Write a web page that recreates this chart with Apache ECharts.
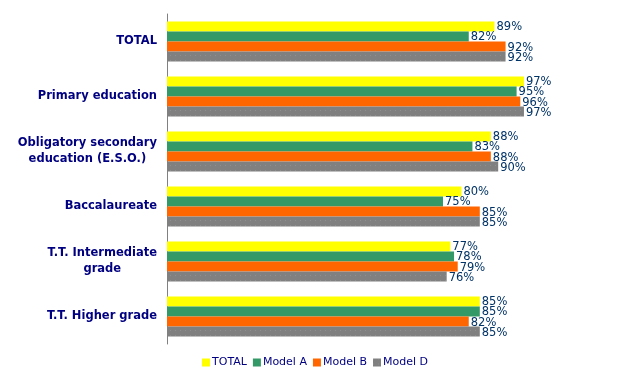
<!DOCTYPE html>
<html><head><meta charset="utf-8">
<script src="https://cdn.jsdelivr.net/npm/echarts@6/dist/echarts.min.js"></script>
<style>html,body{margin:0;padding:0;background:#fff}#c{width:617px;height:379px}</style>
</head><body><div id="c"></div>
<script>
const categories = ["TOTAL", "Primary education", "Obligatory secondary\neducation (E.S.O.)", "Baccalaureate", "T.T. Intermediate\ngrade", "T.T. Higher grade"];
const seriesNames = ["TOTAL", "Model A", "Model B", "Model D"];
const totalVals = [89, 97, 88, 80, 77, 85];
const modelAVals = [82, 95, 83, 75, 78, 85];
const modelBVals = [92, 96, 88, 85, 79, 82];
const modelDVals = [92, 97, 90, 85, 76, 85];
const colors = ["#FFFF00", "#339966", "#FF6600", "#808080"];

const chart = echarts.init(document.getElementById('c'), null, {renderer: 'canvas'});
const allVals = [totalVals, modelAVals, modelBVals, modelDVals];
const font = "DejaVu Sans, Verdana, sans-serif";
const series = allVals.map((v, i) => {
  const itemStyle = {color: colors[i]};
  if (i === 3) itemStyle.decal = {symbol: 'rect', symbolSize: 1, dashArrayX: [1, 4], dashArrayY: [1, 4], color: 'rgba(255,255,255,0.12)'};
  return {
    name: seriesNames[i],
    type: 'bar',
    data: v,
    barGap: '0%',
    barCategoryGap: '27%',
    itemStyle: itemStyle,
    label: {show: true, position: 'right', distance: 2, formatter: '{c}%', color: '#003366', fontFamily: font, fontSize: 11.5, offset: [0, 1]}
  };
});
chart.setOption({
  animation: false,
  grid: {left: 167, top: 14, width: 368, height: 330, containLabel: false},
  legend: {
    data: seriesNames, left: 202, top: 357, padding: 0, itemWidth: 8, itemHeight: 8, itemGap: 6,
    icon: 'rect', textStyle: {color: '#000080', fontFamily: font, fontSize: 11, padding: [0, 0, 0, -3]}
  },
  xAxis: {type: 'value', min: 0, max: 100, show: false, splitLine: {show: false}},
  yAxis: {
    type: 'category', data: categories, inverse: true,
    axisLine: {lineStyle: {color: '#808080'}},
    axisTick: {length: 4, lineStyle: {color: '#808080'}},
    axisLabel: {
      margin: 10, color: '#000080', fontFamily: font, fontSize: 11.5, fontWeight: 'bold', lineHeight: 16,
      formatter: function (v) { return v.split('\n').map(s => '{c|' + s + '}').join('\n'); },
      rich: {c: {align: 'center', color: '#000080', fontFamily: font, fontSize: 11.5, fontWeight: 'bold', lineHeight: 16}}
    }
  },
  series: series
});
</script></body></html>
